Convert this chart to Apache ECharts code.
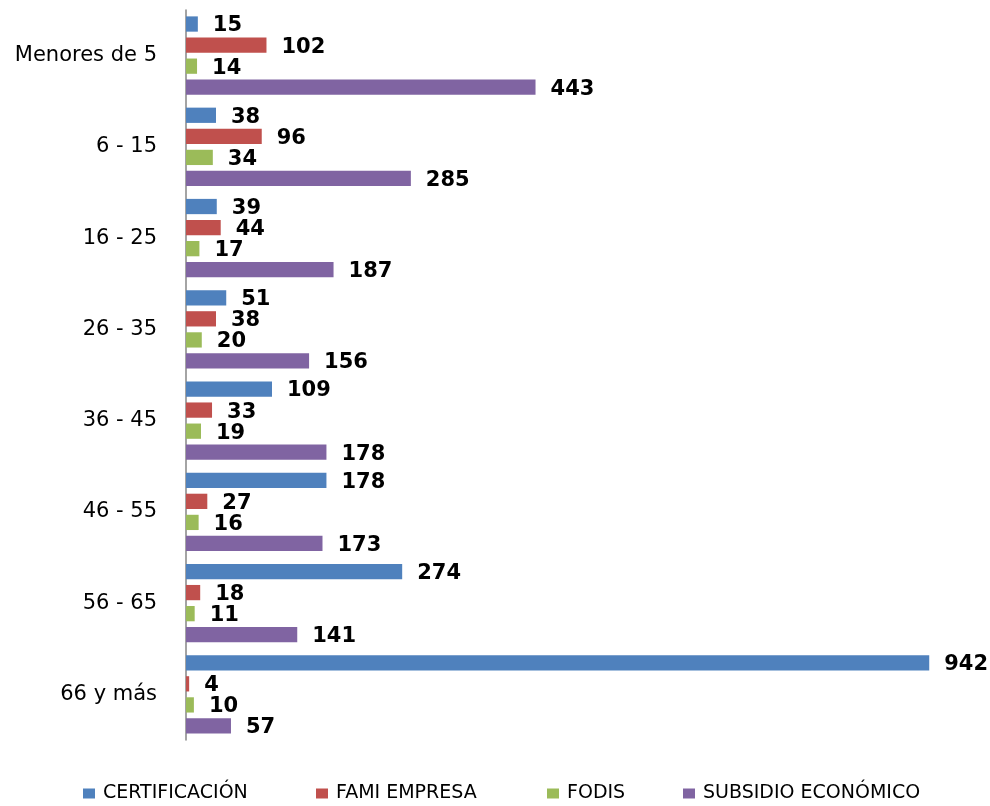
<!DOCTYPE html>
<html>
<head>
<meta charset="utf-8">
<script src="https://cdn.jsdelivr.net/npm/echarts@6/dist/echarts.min.js"></script>
<style>
  html, body { margin: 0; padding: 0; background: #fff; }
  #container { width: 990px; height: 806px; }
</style>
</head>
<body>
<div id="container"></div>
<script>
// age groups, top to bottom
var categories = ['Menores de 5', '6 - 15', '16 - 25', '26 - 35', '36 - 45', '46 - 55', '56 - 65', '66 y más'];

var seriesNames = ['CERTIFICACIÓN', 'FAMI EMPRESA', 'FODIS', 'SUBSIDIO ECONÓMICO'];
var certificacion = [15, 38, 39, 51, 109, 178, 274, 942];
var famiEmpresa = [102, 96, 44, 38, 33, 27, 18, 4];
var fodis = [14, 34, 17, 20, 19, 16, 11, 10];
var subsidio = [443, 285, 187, 156, 178, 173, 141, 57];

var colors = ['#4F81BD', '#C0504D', '#9BBB59', '#8064A2'];
var seriesData = [certificacion, famiEmpresa, fodis, subsidio];
var legendLeft = [83, 316, 547, 683];

var dom = document.getElementById('container');
var myChart = echarts.init(dom);

var series = seriesNames.map(function (name, i) {
    return {
        name: name,
        type: 'bar',
        data: seriesData[i],
        barGap: '38%',
        barCategoryGap: '14%',
        itemStyle: { color: colors[i] },
        label: {
            show: true,
            position: 'right',
            distance: 15,
            offset: [0, 2],
            color: '#000',
            fontFamily: 'DejaVu Sans',
            fontWeight: 'bold',
            fontSize: 21
        }
    };
});

// one legend per item so each can sit where the original puts it
var legends = seriesNames.map(function (name, i) {
    return {
        data: [name],
        left: legendLeft[i],
        top: 784,
        padding: 0,
        itemWidth: 12,
        itemHeight: 10,
        itemGap: 0,
        icon: 'rect',
        textStyle: { fontFamily: 'DejaVu Sans', fontSize: 19, color: '#000', padding: [0, 0, 0, 3] }
    };
});

var option = {
    animation: false,
    color: colors,
    legend: legends,
    grid: { left: 186, right: 15, top: 10, bottom: 66, containLabel: false },
    xAxis: {
        type: 'value',
        min: 0,
        max: 1000,
        show: false
    },
    yAxis: {
        type: 'category',
        data: categories,
        inverse: true,
        axisLine: { lineStyle: { color: '#868686', width: 1.5 } },
        axisTick: { show: false },
        axisLabel: { color: '#000', fontFamily: 'DejaVu Sans', fontSize: 21, margin: 29 }
    },
    series: series
};

if (option && typeof option === "object") {
    myChart.setOption(option, true);
}
</script>
</body>
</html>
